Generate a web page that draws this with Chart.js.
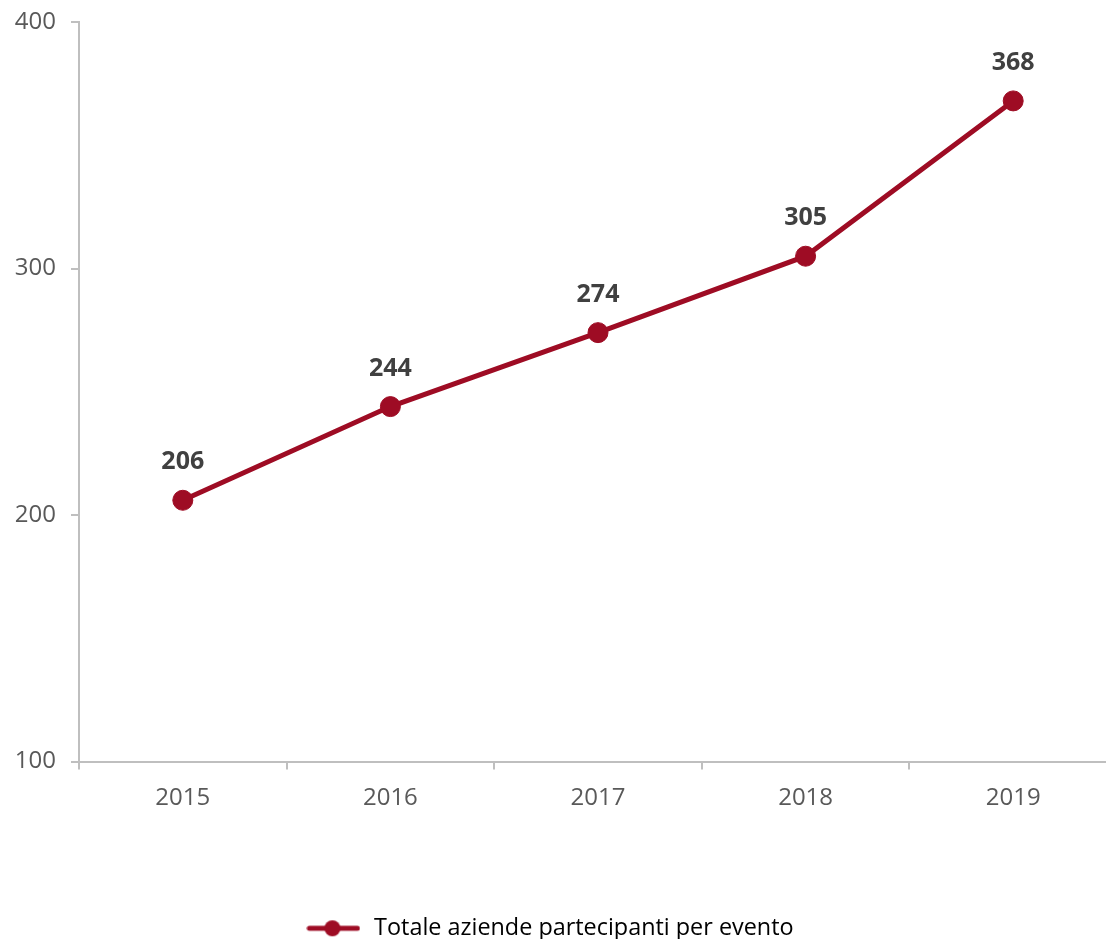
<!DOCTYPE html>
<html>
<head>
<meta charset="utf-8">
<script src="https://cdn.jsdelivr.net/npm/chart.js@4/dist/chart.umd.min.js"></script>
<style>
  html, body { margin: 0; padding: 0; background: #fff; overflow: hidden; }
  #wrap { position: relative; width: 1128px; height: 939px; }
</style>
</head>
<body>
<div id="wrap"><canvas id="grafico"></canvas></div>
<script>
const anni = ['2015', '2016', '2017', '2018', '2019'];
const aziende = [206, 244, 274, 305, 368];
const nomeSerie = 'Totale aziende partecipanti per evento';
const yTicks = [100, 200, 300, 400];

const rosso = '#9E0C24';
const grigioAsse = '#BFBFBF';
const grigioTesto = '#595959';
const font = '"Open Sans", "Liberation Sans", sans-serif';

// simbolo legenda: linea con pallino
function simboloLegenda() {
  const c = document.createElement('canvas');
  c.width = 54; c.height = 18;
  const g = c.getContext('2d');
  g.strokeStyle = rosso;
  g.lineWidth = 5;
  g.lineCap = 'round';
  g.beginPath();
  g.moveTo(3, 9); g.lineTo(51, 9);
  g.stroke();
  g.fillStyle = rosso;
  g.beginPath();
  g.arc(26, 9, 8, 0, Math.PI * 2);
  g.fill();
  return c;
}

const etichetteValori = {
  id: 'etichetteValori',
  afterDatasetsDraw(chart) {
    const ctx = chart.ctx;
    const meta = chart.getDatasetMeta(0);
    ctx.save();
    ctx.font = 'bold 25px ' + font;
    ctx.fillStyle = '#404040';
    ctx.textAlign = 'center';
    ctx.textBaseline = 'middle';
    meta.data.forEach((pt, i) => {
      ctx.fillText(String(aziende[i]), pt.x, pt.y - 38);
    });
    ctx.restore();
  }
};

// sposta la legenda: un po' a sinistra e in basso
const spostaLegenda = {
  id: 'spostaLegenda',
  afterLayout(chart) {
    if (chart.legend) {
      chart.legend.left -= 13;
      chart.legend.right -= 13;
      chart.legend.top += 11;
      chart.legend.bottom += 11;
    }
  }
};

const simbolo = simboloLegenda();

new Chart(document.getElementById('grafico'), {
  type: 'line',
  data: {
    labels: anni,
    datasets: [{
      label: nomeSerie,
      data: aziende,
      borderColor: rosso,
      backgroundColor: rosso,
      borderWidth: 5,
      pointRadius: 10,
      pointHoverRadius: 10,
      pointBackgroundColor: rosso,
      pointBorderColor: rosso,
      pointBorderWidth: 1,
      pointStyle: 'circle',
      tension: 0,
      fill: false
    }]
  },
  options: {
    responsive: true,
    maintainAspectRatio: false,
    animation: false,
    layout: { padding: { top: 22, left: 0, right: 4, bottom: 0 } },
    plugins: {
      tooltip: { enabled: false },
      legend: {
        position: 'bottom',
        labels: {
          font: { family: font, size: 23.4 },
          color: grigioTesto,
          usePointStyle: true,
          pointStyleWidth: 58,
          padding: 0,
          generateLabels: () => [{
            text: nomeSerie,
            pointStyle: simbolo,
            fillStyle: rosso,
            strokeStyle: rosso,
            lineWidth: 0,
            datasetIndex: 0
          }]
        }
      }
    },
    scales: {
      x: {
        offset: true,
        grid: {
          offset: true,
          drawOnChartArea: false,
          drawTicks: true,
          tickLength: 8,
          color: grigioAsse,
          lineWidth: 2
        },
        border: { color: grigioAsse, width: 2 },
        ticks: {
          font: { family: font, size: 24 },
          color: grigioTesto,
          padding: 14,
          maxRotation: 0
        },
        afterFit: (s) => { s.height = 144; }
      },
      y: {
        min: 100,
        max: 400,
        afterBuildTicks: (s) => { s.ticks = yTicks.map(v => ({ value: v })); },
        grid: {
          drawOnChartArea: false,
          drawTicks: true,
          tickLength: 8,
          color: grigioAsse,
          lineWidth: 2
        },
        border: { color: grigioAsse, width: 2 },
        ticks: {
          font: { family: font, size: 24 },
          color: grigioTesto,
          padding: 15
        },
        afterFit: (s) => { s.width = 79; s.paddingTop = 0; s.paddingBottom = 0; }
      }
    }
  },
  plugins: [etichetteValori, spostaLegenda]
});
</script>
</body>
</html>
